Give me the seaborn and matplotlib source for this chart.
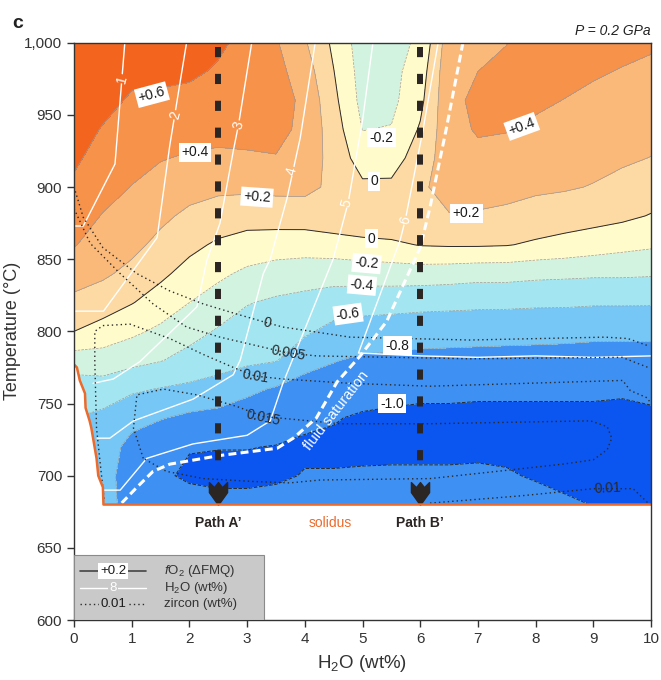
import numpy as np
import matplotlib
matplotlib.use("Agg")
import matplotlib.pyplot as plt
from matplotlib.path import Path
from matplotlib.patches import Polygon, Rectangle
from matplotlib.ticker import FuncFormatter, MultipleLocator
import seaborn as sns

sns.set_theme(style="ticks")
plt.rcParams["font.family"] = ["Liberation Sans", "DejaVu Sans"]
plt.rcParams["mathtext.fontset"] = "custom"
plt.rcParams["mathtext.rm"] = "Liberation Sans"
plt.rcParams["mathtext.it"] = "Liberation Sans:italic"
plt.rcParams["mathtext.bf"] = "Liberation Sans:bold"

# ---------------------------------------------------------------- data
# fO2 (delta FMQ) on a grid: one column per bulk H2O value, rows 680..1000 degC
H2O_GRID = [0.0, 0.5, 1.0, 1.5, 2.0, 2.5, 3.0, 3.5, 4.0, 4.5, 5.0,
            5.5, 6.0, 6.5, 7.0, 7.5, 8.0, 8.5, 9.0, 9.5, 10.0]
T_GRID = [680, 700, 720, 740, 760, 780, 800, 820, 840, 860, 880,
          900, 920, 940, 960, 980, 1000]
FO2_GRID = [
    [-0.75, -0.72, -0.68, -0.60, -0.50, -0.30, 0.00, 0.15, 0.29, 0.41, 0.49, 0.57, 0.63, 0.67, 0.70, 0.73, 0.76],
    [-0.72, -0.72, -0.70, -0.65, -0.49, -0.29, -0.08, 0.10, 0.23, 0.32, 0.39, 0.47, 0.53, 0.59, 0.65, 0.69, 0.72],
    [-0.88, -0.90, -0.86, -0.74, -0.57, -0.34, -0.16, 0.01, 0.15, 0.25, 0.32, 0.395, 0.46, 0.52, 0.58, 0.64, 0.68],
    [-0.90, -0.97, -0.93, -0.79, -0.61, -0.39, -0.24, -0.09, 0.04, 0.15, 0.24, 0.33, 0.41, 0.49, 0.57, 0.64, 0.68],
    [-0.92, -1.03, -0.99, -0.84, -0.64, -0.47, -0.33, -0.20, -0.07, 0.05, 0.16, 0.27, 0.38, 0.47, 0.55, 0.63, 0.68],
    [-0.95, -1.04, -0.995, -0.87, -0.67, -0.53, -0.42, -0.29, -0.16, -0.03, 0.11, 0.24, 0.37, 0.45, 0.52, 0.58, 0.63],
    [-0.95, -1.04, -0.995, -0.90, -0.76, -0.56, -0.48, -0.39, -0.24, -0.08, 0.08, 0.24, 0.38, 0.45, 0.50, 0.55, 0.55],
    [-0.93, -1.03, -1.005, -0.92, -0.82, -0.59, -0.51, -0.43, -0.29, -0.10, 0.09, 0.25, 0.39, 0.46, 0.48, 0.46, 0.42],
    [-0.90, -0.99, -1.03, -0.96, -0.88, -0.73, -0.57, -0.46, -0.31, -0.11, 0.10, 0.25, 0.30, 0.35, 0.36, 0.30, 0.22],
    [-0.90, -0.99, -1.03, -0.99, -0.90, -0.79, -0.66, -0.50, -0.32, -0.09, 0.14, 0.16, 0.14, 0.10, 0.05, 0.005, -0.04],
    [-0.90, -0.98, -1.04, -1.02, -0.93, -0.83, -0.69, -0.52, -0.31, -0.06, 0.17, 0.04, -0.10, -0.205, -0.26, -0.28, -0.30],
    [-0.90, -0.97, -1.05, -1.03, -0.95, -0.84, -0.70, -0.53, -0.30, -0.04, 0.18, 0.04, -0.09, -0.19, -0.25, -0.26, -0.26],
    [-0.90, -0.97, -1.05, -1.04, -0.96, -0.85, -0.72, -0.54, -0.30, 0.01, 0.15, 0.17, 0.10, 0.02, -0.05, -0.10, -0.17],
    [-0.90, -0.97, -1.05, -1.04, -0.96, -0.86, -0.72, -0.55, -0.31, 0.02, 0.19, 0.27, 0.30, 0.33, 0.35, 0.34, 0.31],
    [-0.90, -0.96, -1.05, -1.04, -0.97, -0.87, -0.72, -0.56, -0.33, 0.02, 0.18, 0.28, 0.35, 0.42, 0.44, 0.40, 0.34],
    [-0.88, -0.98, -1.05, -1.04, -0.97, -0.87, -0.73, -0.56, -0.33, 0.01, 0.16, 0.26, 0.33, 0.41, 0.46, 0.45, 0.395],
    [-0.92, -1.02, -1.06, -1.04, -0.97, -0.88, -0.73, -0.57, -0.35, -0.03, 0.13, 0.23, 0.30, 0.36, 0.44, 0.50, 0.55],
    [-0.97, -1.05, -1.06, -1.04, -0.97, -0.88, -0.74, -0.57, -0.36, -0.06, 0.09, 0.22, 0.28, 0.33, 0.395, 0.47, 0.52],
    [-1.005, -1.06, -1.07, -1.04, -0.97, -0.89, -0.75, -0.58, -0.37, -0.10, 0.07, 0.19, 0.26, 0.31, 0.36, 0.42, 0.48],
    [-1.03, -1.06, -1.07, -1.04, -0.98, -0.89, -0.75, -0.58, -0.37, -0.14, 0.04, 0.14, 0.23, 0.29, 0.34, 0.39, 0.45],
    [-1.03, -1.06, -1.07, -1.04, -0.95, -0.87, -0.76, -0.58, -0.38, -0.17, -0.01, 0.10, 0.195, 0.27, 0.33, 0.37, 0.42],
]
FO2_LEVELS = [-2.0, -1.0, -0.8, -0.6, -0.4, -0.2, 0.0, 0.2, 0.4, 0.6, 2.0]
FO2_COLORS = ["#0B55F1", "#3E90F3", "#76C6F6", "#A3E6F1", "#D3F3E1",
              "#FFFBCB", "#FDDAA3", "#FAB979", "#F7924B", "#F3651F"]

# solidus
SOLIDUS_H2O = [0.0, 0.05, 0.10, 0.19, 0.20, 0.27, 0.30, 0.36, 0.39, 0.42, 0.50, 0.51, 10.0]
SOLIDUS_T = [777, 775, 766, 757, 747, 738, 733, 719, 712, 700, 692, 680, 680]

# melt H2O isopleths (wt%)
ISO1_H2O = [0.88, 0.71, 0.16, 0.0]
ISO1_T = [1000, 916, 873, 873]
ISO2_H2O = [1.95, 1.66, 1.44, 0.51, 0.0]
ISO2_T = [1000, 929, 865, 814, 814]
ISO3_H2O = [3.08, 2.85, 2.76, 2.53, 2.30, 2.13, 1.87, 1.14, 0.68, 0.33]
ISO3_T = [1000, 943, 925, 875, 849, 817, 807, 779, 767, 764]
ISO4_H2O = [4.18, 3.92, 3.69, 3.40, 3.28, 2.88, 2.76, 2.06, 1.03, 0.62, 0.40]
ISO4_T = [1000, 934, 892, 850, 840, 780, 770, 753, 738, 726, 726]
ISO5_H2O = [5.18, 5.00, 4.75, 4.49, 3.62, 3.40, 3.00, 2.06, 1.26, 0.80, 0.50]
ISO5_T = [1000, 946, 889, 850, 764, 738, 728, 722, 712, 690, 690]
ISO6_H2O = [6.31, 6.05, 5.74, 5.65, 4.93, 6.0, 7.0, 8.0, 9.0, 10.0]
ISO6_T = [1000, 940, 877, 863, 785, 783, 782, 783, 782, 783]
ISO_LABELS = ["1", "2", "3", "4", "5", "6"]
ISO_LABEL_H2O = [0.83, 1.75, 2.85, 3.78, 4.72, 5.74]
ISO_LABEL_T = [975, 950, 943, 911, 889, 877]

# fluid saturation curve
FLUID_H2O = [6.74, 6.45, 6.17, 6.00, 5.42, 4.96, 4.56, 4.20, 3.80, 3.52, 2.53, 1.66, 1.37, 1.09, 0.80]
FLUID_T = [1000, 940, 886, 858, 807, 783, 765, 740, 726, 719, 714, 708, 703, 692, 680]

# zircon isopleths (wt%)
ZR0_H2O = [0.0, 0.16, 0.5, 1.09, 1.66, 2.24, 2.82, 3.34, 3.62, 4.78, 6.86, 9.2, 9.6, 9.95]
ZR0_T = [900, 879, 858, 840, 828, 819, 812, 806, 803, 796, 794, 796, 795, 790]
ZR005_H2O = [0.0, 0.28, 0.8, 1.37, 1.95, 2.53, 3.28, 3.71, 4.2, 6.86, 9.5, 9.95]
ZR005_T = [885, 861, 840, 819, 803, 796, 789, 785, 783, 781, 782, 775]
ZR01_H2O = [0.52, 0.45, 0.39, 0.36, 0.36, 0.50, 0.97, 1.66, 2.24, 2.82, 3.14, 3.62, 4.78, 6.17, 9.51, 9.64, 9.93, 10.0]
ZR01_T = [684, 710, 733, 779, 800, 804, 805, 795, 784, 774, 769, 767, 764, 762, 766, 759, 754, 750]
ZR01B_H2O = [6.17, 7.73, 9.0, 9.69, 9.95, 10.0]
ZR01B_T = [681, 686, 691, 691, 681, 680]
ZR015_H2O = [1.20, 1.03, 1.09, 1.55, 2.13, 2.82, 3.28, 4.61, 6.17, 8.95, 9.24, 9.32, 9.24, 9.00, 8.47, 7.33,
             6.17, 4.26, 3.74, 3.10, 2.24, 1.60, 1.20]
ZR015_T = [712, 733, 756, 760, 756, 748, 741, 736, 736, 738, 734, 726, 718, 711, 708, 703,
           698, 697, 695, 696, 698, 703, 712]
ZR_LABELS = ["0", "0.005", "0.01", "0.015", "0.01"]
ZR_LABEL_H2O = [3.34, 3.71, 3.14, 3.28, 9.25]
ZR_LABEL_T = [806, 785, 769, 740, 691]

# fO2 contour labels
FO2_LABELS = ["+0.6", "+0.4", "+0.2", "-0.2", "0", "+0.4", "+0.2", "0", "-0.2", "-0.4", "-0.6", "-0.8", "-1.0"]
FO2_LABEL_H2O = [1.35, 2.10, 3.17, 5.33, 5.20, 7.76, 6.80, 5.16, 5.07, 4.99, 4.75, 5.60, 5.51]
FO2_LABEL_T = [964, 924, 893, 934, 904, 942, 882, 864, 847, 832, 812, 790, 750]

# cooling paths
PATH_NAMES = ["Path A\u2019", "Path B\u2019"]
PATH_H2O = [2.5, 6.0]
PATH_T_START = 997
PATH_T_END = 707

# ---------------------------------------------------------------- figure
fig = plt.figure(figsize=(6.61, 6.80), dpi=100)
ax = fig.add_axes([0.112, 0.0882, 0.8729, 0.849])
ax.set_facecolor("white")

X, Y = np.meshgrid(H2O_GRID, T_GRID)
Z = np.array(FO2_GRID).T

clip_poly = Polygon(np.column_stack([SOLIDUS_H2O + [10.0, 0.0], SOLIDUS_T + [1000, 1000]]),
                    closed=True, transform=ax.transData)

cf = ax.contourf(X, Y, Z, levels=FO2_LEVELS, colors=FO2_COLORS, zorder=1)
cf.set_clip_path(clip_poly)
thin = ax.contour(X, Y, Z, levels=[-0.8, -0.6, -0.4, -0.2, 0.2, 0.4, 0.6],
                  colors="#9a9a9a", linewidths=0.5, zorder=2)
thin.set_clip_path(clip_poly)
bold = ax.contour(X, Y, Z, levels=[-1.0, 0.0], colors="#2a2a2a", linewidths=0.7, zorder=2)
bold.set_clip_path(clip_poly)

# H2O isopleths
for xs, ts in [(ISO1_H2O, ISO1_T), (ISO2_H2O, ISO2_T), (ISO3_H2O, ISO3_T),
               (ISO4_H2O, ISO4_T), (ISO5_H2O, ISO5_T), (ISO6_H2O, ISO6_T)]:
    sns.lineplot(x=xs, y=ts, sort=False, estimator=None, color="white", lw=1.0,
                 ax=ax, legend=False, zorder=3)

iso_bg = ["#F3651F", "#F7924B", "#F7924B", "#FAB979", "#FDDAA3", "#FDDAA3"]
for lab, xv, tv, bg in zip(ISO_LABELS, ISO_LABEL_H2O, ISO_LABEL_T, iso_bg):
    ax.text(xv, tv, lab, color="white", fontsize=10, rotation=75, ha="center", va="center",
            bbox=dict(boxstyle="square,pad=0.05", fc=bg, ec="none"), zorder=4)

# zircon isopleths
for xs, ts in [(ZR0_H2O, ZR0_T), (ZR005_H2O, ZR005_T), (ZR01_H2O, ZR01_T),
               (ZR01B_H2O, ZR01B_T), (ZR015_H2O, ZR015_T)]:
    sns.lineplot(x=xs, y=ts, sort=False, estimator=None, color="#2a2a2a", lw=1.0,
                 linestyle=(0, (1, 2.2)), ax=ax, legend=False, zorder=3)
zr_rot = [-12, -10, -10, -12, 3]
for lab, xv, tv, r in zip(ZR_LABELS, ZR_LABEL_H2O, ZR_LABEL_T, zr_rot):
    ax.text(xv, tv, lab, color="#2a2a2a", fontsize=10, rotation=r, ha="center", va="center", zorder=4)

# fluid saturation
sns.lineplot(x=FLUID_H2O, y=FLUID_T, sort=False, estimator=None, color="white", lw=2.2,
             linestyle=(0, (2.6, 1.4)), ax=ax, legend=False, zorder=4)
ax.text(4.54, 745, "fluid saturation", color="white", fontsize=10.5, rotation=52,
        ha="center", va="center", zorder=4)

# fO2 labels
fo2_rot = [15, 0, -4, 0, 0, 20, 0, 0, -5, -5, 8, 0, 0]
for lab, xv, tv, r in zip(FO2_LABELS, FO2_LABEL_H2O, FO2_LABEL_T, fo2_rot):
    ax.text(xv, tv, lab, color="#1a1a1a", fontsize=10, rotation=r, ha="center", va="center",
            bbox=dict(boxstyle="square,pad=0.18", fc="white", ec="none"), zorder=5)

# cooling paths with arrowheads
arrow = Path([(-0.5, 0.6), (-0.22, 0.32), (0.0, 0.6), (0.22, 0.32), (0.5, 0.6),
              (0.5, 0.05), (0.0, -0.65), (-0.5, 0.05), (-0.5, 0.6)],
             [Path.MOVETO] + [Path.LINETO] * 7 + [Path.CLOSEPOLY])
for name, xv in zip(PATH_NAMES, PATH_H2O):
    sns.lineplot(x=[xv, xv], y=[PATH_T_START, PATH_T_END], sort=False, estimator=None,
                 color="#2b2523", lw=4.3, linestyle=(0, (1.7, 2.8)), ax=ax, legend=False, zorder=5)
    ax.plot([xv], [688], marker=arrow, ms=17, color="#2b2523", mec="#2b2523", zorder=6)
    ax.text(xv, 667, name, fontsize=10, fontweight="bold", color="#2b2523",
            ha="center", va="center", zorder=6)

# solidus
sns.lineplot(x=SOLIDUS_H2O, y=SOLIDUS_T, sort=False, estimator=None, color="#EC6A2C", lw=1.8,
             ax=ax, legend=False, zorder=6)
ax.text(4.45, 667, "solidus", fontsize=10, color="#EC6A2C", ha="center", va="center")

# axes styling
ax.set_xlim(0, 10)
ax.set_ylim(600, 1000)
ax.xaxis.set_major_locator(MultipleLocator(1))
ax.yaxis.set_major_locator(MultipleLocator(50))
ax.yaxis.set_major_formatter(FuncFormatter(lambda v, p: f"{int(v):,}"))
ax.tick_params(axis="both", labelsize=11, length=5, width=1, colors="#333333",
               top=False, right=False, direction="out")
for s in ax.spines.values():
    s.set_color("#333333")
    s.set_linewidth(1.0)
    s.set_zorder(7)
ax.set_xlabel("H$_2$O (wt%)", fontsize=13.5, color="#333333", labelpad=5)
ax.set_ylabel("Temperature (°C)", fontsize=13, color="#333333", labelpad=2)

ax.text(1.0, 1.008, "P = 0.2 GPa", transform=ax.transAxes, ha="right", va="bottom",
        fontsize=10, style="italic", color="#222222")
fig.text(0.018, 0.978, "c", fontsize=14, fontweight="bold", ha="left", va="top", color="#222222")

# key
ax.add_patch(Rectangle((0, 0), 0.329, 0.1126, transform=ax.transAxes, fc="#c9c9c9",
                       ec="#8a8a8a", lw=0.8, zorder=8))
rows = [0.085, 0.056, 0.027]
ax.plot([0.0104, 0.125], [rows[0]] * 2, transform=ax.transAxes, color="#444444", lw=1.2, zorder=9)
ax.plot([0.0104, 0.125], [rows[1]] * 2, transform=ax.transAxes, color="white", lw=1.0, zorder=9)
ax.plot([0.0104, 0.125], [rows[2]] * 2, transform=ax.transAxes, color="#2a2a2a", lw=1.0,
        linestyle=(0, (1, 2.2)), zorder=9)
ax.text(0.0676, rows[0], "+0.2", transform=ax.transAxes, ha="center", va="center", fontsize=9.5,
        color="#1a1a1a", bbox=dict(boxstyle="square,pad=0.12", fc="white", ec="none"), zorder=10)
ax.text(0.0676, rows[1], "8", transform=ax.transAxes, ha="center", va="center", fontsize=9.5,
        color="white", bbox=dict(boxstyle="square,pad=0.12", fc="#c9c9c9", ec="none"), zorder=10)
ax.text(0.0676, rows[2], "0.01", transform=ax.transAxes, ha="center", va="center", fontsize=9.5,
        color="#1a1a1a", bbox=dict(boxstyle="square,pad=0.12", fc="#c9c9c9", ec="none"), zorder=10)
key_text = [r"$f$O$_2$ ($\Delta$FMQ)", "H$_2$O (wt%)", "zircon (wt%)"]
for r, t in zip(rows, key_text):
    ax.text(0.156, r, t, transform=ax.transAxes, ha="left", va="center", fontsize=9.5,
            color="#333333", zorder=10)

fig.savefig("out.png", dpi=100)
